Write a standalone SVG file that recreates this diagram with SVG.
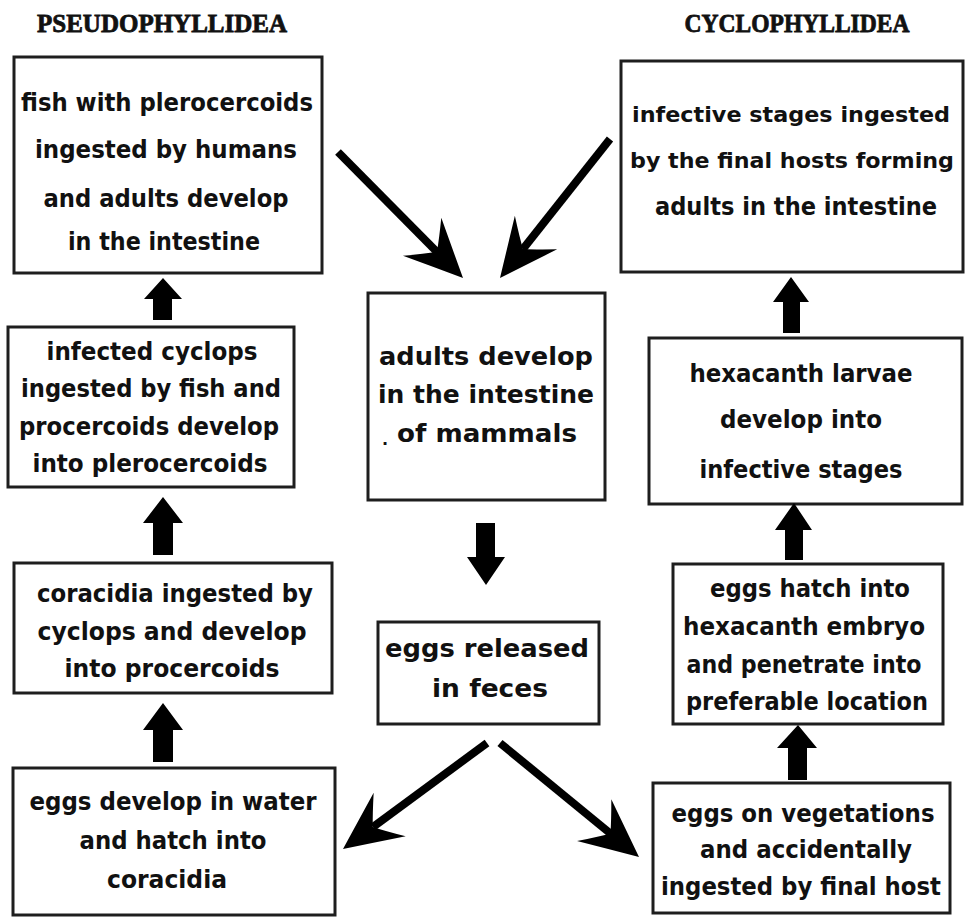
<svg xmlns="http://www.w3.org/2000/svg" width="965" height="917" viewBox="0 0 965 917">
<style>
.box{fill:#fff;stroke:#1e1e1e;stroke-width:3}
.t{font-family:"DejaVu Sans","Liberation Sans",sans-serif;font-weight:bold;font-size:24px;fill:#111;text-anchor:middle}
.tc{font-family:"DejaVu Sans","Liberation Sans",sans-serif;font-weight:bold;font-size:25px;fill:#111;text-anchor:middle}
.h{font-family:"Liberation Serif","DejaVu Serif",serif;font-weight:900;font-size:26px;fill:#111;stroke:#111;stroke-width:0.8;text-anchor:middle}
.shaft{stroke:#000;stroke-width:8;fill:none}
.blk{fill:#000}
</style>
<defs>
<path id="ah" d="M0,0 Q-28,-13 -58,-27 Q-44,-10 -37,0 Q-44,10 -58,27 Q-28,13 0,0 Z" fill="#000"/>
</defs>
<rect width="965" height="917" fill="#fff"/>
<g id="headers">
<text class="h" x="162" y="32" textLength="250" lengthAdjust="spacingAndGlyphs">PSEUDOPHYLLIDEA</text>
<text class="h" x="797" y="32" textLength="225" lengthAdjust="spacingAndGlyphs">CYCLOPHYLLIDEA</text>
</g>
<g id="n-fish">
<rect class="box" x="14" y="57" width="308" height="216"/>
<text class="t" x="167" y="111" textLength="292" lengthAdjust="spacingAndGlyphs">fish with plerocercoids</text>
<text class="t" x="166" y="158" textLength="262" lengthAdjust="spacingAndGlyphs">ingested by humans</text>
<text class="t" x="166" y="207" textLength="245" lengthAdjust="spacingAndGlyphs">and adults develop</text>
<text class="t" x="164" y="250" textLength="192" lengthAdjust="spacingAndGlyphs">in the intestine</text>
</g>
<g id="n-infective">
<rect class="box" x="621" y="61" width="342" height="211"/>
<text class="t" x="791" y="122" style="font-size:22px" textLength="318" lengthAdjust="spacingAndGlyphs">infective stages ingested</text>
<text class="t" x="792" y="168" style="font-size:22px" textLength="324" lengthAdjust="spacingAndGlyphs">by the final hosts forming</text>
<text class="t" x="796" y="215" textLength="282" lengthAdjust="spacingAndGlyphs">adults in the intestine</text>
</g>
<g id="n-adults">
<rect class="box" x="368" y="293" width="237" height="207"/>
<text class="tc" x="486" y="365" textLength="214" lengthAdjust="spacingAndGlyphs">adults develop</text>
<text class="tc" x="486" y="403" textLength="216" lengthAdjust="spacingAndGlyphs">in the intestine</text>
<text class="tc" x="385" y="445" style="font-size:16px">.</text>
<text class="tc" x="487" y="442" textLength="180" lengthAdjust="spacingAndGlyphs">of mammals</text>
</g>
<g id="n-cyclops">
<rect class="box" x="8" y="327" width="286" height="160"/>
<text class="t" x="152" y="360" textLength="211" lengthAdjust="spacingAndGlyphs">infected cyclops</text>
<text class="t" x="151" y="397" textLength="260" lengthAdjust="spacingAndGlyphs">ingested by fish and</text>
<text class="t" x="149" y="435" textLength="260" lengthAdjust="spacingAndGlyphs">procercoids develop</text>
<text class="t" x="150" y="472" textLength="235" lengthAdjust="spacingAndGlyphs">into plerocercoids</text>
</g>
<g id="n-coracidia">
<rect class="box" x="14" y="563" width="318" height="130"/>
<text class="t" x="175" y="602" textLength="276" lengthAdjust="spacingAndGlyphs">coracidia ingested by</text>
<text class="t" x="172" y="640" textLength="269" lengthAdjust="spacingAndGlyphs">cyclops and develop</text>
<text class="t" x="172" y="677" textLength="215" lengthAdjust="spacingAndGlyphs">into procercoids</text>
</g>
<g id="n-water">
<rect class="box" x="13" y="768" width="322" height="147"/>
<text class="t" x="173" y="810" textLength="287" lengthAdjust="spacingAndGlyphs">eggs develop in water</text>
<text class="t" x="173" y="849" textLength="187" lengthAdjust="spacingAndGlyphs">and hatch into</text>
<text class="t" x="167" y="888" textLength="120" lengthAdjust="spacingAndGlyphs">coracidia</text>
</g>
<g id="n-released">
<rect class="box" x="378" y="622" width="221" height="102"/>
<text class="tc" x="487" y="657" textLength="204" lengthAdjust="spacingAndGlyphs">eggs released</text>
<text class="tc" x="490" y="697" textLength="116" lengthAdjust="spacingAndGlyphs">in feces</text>
</g>
<g id="n-larvae">
<rect class="box" x="649" y="338" width="313" height="166"/>
<text class="t" x="801" y="382" textLength="223" lengthAdjust="spacingAndGlyphs">hexacanth larvae</text>
<text class="t" x="801" y="428" textLength="162" lengthAdjust="spacingAndGlyphs">develop into</text>
<text class="t" x="801" y="478" textLength="203" lengthAdjust="spacingAndGlyphs">infective stages</text>
</g>
<g id="n-hatch">
<rect class="box" x="673" y="564" width="270" height="160"/>
<text class="t" x="810" y="597" textLength="200" lengthAdjust="spacingAndGlyphs">eggs hatch into</text>
<text class="t" x="804" y="635" textLength="242" lengthAdjust="spacingAndGlyphs">hexacanth embryo</text>
<text class="t" x="804" y="673" textLength="235" lengthAdjust="spacingAndGlyphs">and penetrate into</text>
<text class="t" x="807" y="710" textLength="242" lengthAdjust="spacingAndGlyphs">preferable location</text>
</g>
<g id="n-vegetation">
<rect class="box" x="653" y="783" width="297" height="130"/>
<text class="t" x="803" y="822" textLength="263" lengthAdjust="spacingAndGlyphs">eggs on vegetations</text>
<text class="t" x="806" y="858" textLength="212" lengthAdjust="spacingAndGlyphs">and accidentally</text>
<text class="t" x="801" y="895" textLength="280" lengthAdjust="spacingAndGlyphs">ingested by final host</text>
</g>
<g id="connectors">
<line class="shaft" x1="338" y1="152" x2="437" y2="252"/>
<use href="#ah" transform="translate(463,278) rotate(45.2)"/>
<line class="shaft" x1="610" y1="139" x2="523" y2="249"/>
<use href="#ah" transform="translate(500,278) rotate(128.4)"/>
<line class="shaft" x1="487" y1="743" x2="373" y2="827"/>
<use href="#ah" transform="translate(343,849) rotate(143.6)"/>
<line class="shaft" x1="500" y1="743" x2="611" y2="834"/>
<use href="#ah" transform="translate(639,857) rotate(39.4)"/>
<path class="blk" d="M486,585 L505,557 L495,557 L495,523 L476,523 L476,557 L467,557 Z"/>
<path class="blk" d="M163,278 L182,299 L172,299 L172,320 L153,320 L153,299 L144,299 Z"/>
<path class="blk" d="M163,497 L183,523 L173,523 L173,555 L153,555 L153,523 L143,523 Z"/>
<path class="blk" d="M163,703 L183,730 L173,730 L173,762 L153,762 L153,730 L143,730 Z"/>
<path class="blk" d="M791,277 L809,302 L800,302 L800,333 L783,333 L783,302 L773,302 Z"/>
<path class="blk" d="M794,503 L812,530 L803,530 L803,560 L785,560 L785,530 L775,530 Z"/>
<path class="blk" d="M798,725 L817,748 L807,748 L807,780 L788,780 L788,748 L777,748 Z"/>
</g>
</svg>
